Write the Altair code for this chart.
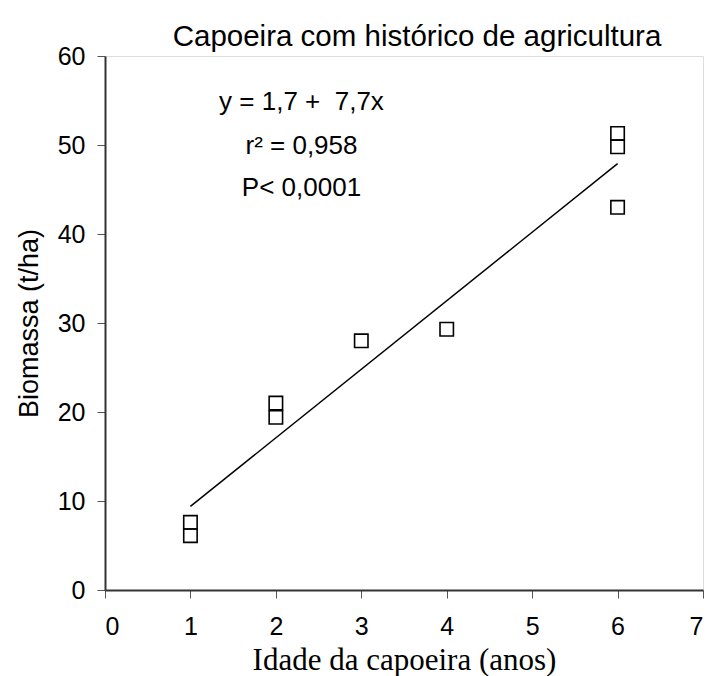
import altair as alt
import pandas as pd

idade = [1, 1, 2, 2, 3, 4, 6, 6, 6]
biomassa = [7.6, 6.1, 21.0, 19.4, 28.0, 29.3, 51.3, 49.8, 43.0]

intercept = 1.7
slope = 7.7
fit_x = [1, 6]
fit_y = [intercept + slope * v for v in fit_x]

ann_text = ["y = 1,7 + \u00a07,7x", "r² = 0,958", "P< 0,0001"]
ann_x = [2.3, 2.3, 2.3]
ann_y = [54.8, 49.9, 45.2]

pts = pd.DataFrame({"x": idade, "y": biomassa})
fit = pd.DataFrame({"x": fit_x, "y": fit_y})
ann = pd.DataFrame({"x": ann_x, "y": ann_y, "t": ann_text})

xs = alt.Scale(domain=[0, 7], nice=False, zero=True)
ys = alt.Scale(domain=[0, 60], nice=False, zero=True)

xaxis = alt.Axis(values=list(range(0, 8)), format="d", title="Idade da capoeira (anos)",
                 titleFont="Liberation Serif", titleFontSize=31, titlePadding=6, labelPadding=16)
yaxis = alt.Axis(values=list(range(0, 70, 10)), format="d", title="Biomassa (t/ha)",
                 titleFont="Liberation Sans", titleFontSize=27, titlePadding=14, labelPadding=12)

line = alt.Chart(fit).mark_line(color="black", strokeWidth=1.5).encode(
    x=alt.X("x:Q", scale=xs, axis=xaxis),
    y=alt.Y("y:Q", scale=ys, axis=yaxis),
)

points = alt.Chart(pts).mark_point(shape="square", filled=False, size=180, color="black", strokeWidth=1.6, opacity=1).encode(
    x=alt.X("x:Q", scale=xs, axis=xaxis),
    y=alt.Y("y:Q", scale=ys, axis=yaxis),
)

text = alt.Chart(ann).mark_text(font="Liberation Sans", fontSize=26, color="black", align="center", baseline="middle").encode(
    x=alt.X("x:Q", scale=xs, axis=xaxis),
    y=alt.Y("y:Q", scale=ys, axis=yaxis),
    text="t:N",
)

chart = alt.layer(line, points, text).properties(
    width=598,
    height=534,
    title=alt.TitleParams("Capoeira com histórico de agricultura", font="Liberation Sans", fontSize=29.5,
                          fontWeight="normal", color="black", anchor="middle", dx=13, offset=-8),
    autosize=alt.AutoSizeParams(type="none"),
    padding={"left": 105, "top": 56, "right": 6, "bottom": 86},
).configure_view(stroke="#808080", strokeWidth=2).configure(background="white").configure_axis(
    labelFont="Liberation Sans", labelFontSize=25, labelColor="black", tickSize=8, tickColor="#555",
    domainColor="#333", domainWidth=2, grid=False, titleFontWeight="normal", titleColor="black",
)

chart.save("out.html", embed_options={"renderer": "svg", "actions": False})
